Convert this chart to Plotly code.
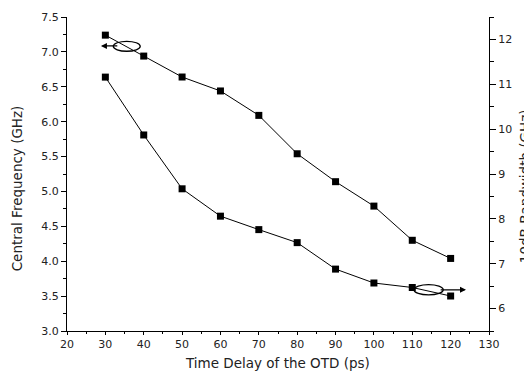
import plotly.graph_objects as go

time_delay = [30, 40, 50, 60, 70, 80, 90, 100, 110, 120]
central_freq = [7.24, 6.94, 6.64, 6.44, 6.09, 5.54, 5.14, 4.79, 4.30, 4.04]
bandwidth = [11.16, 9.87, 8.67, 8.06, 7.76, 7.47, 6.88, 6.57, 6.47, 6.28]

x_title = "Time Delay of the OTD (ps)"
y_title = "Central Frequency (GHz)"
y2_title = "-10dB Bandwidth (GHz)"

FONT = "DejaVu Sans, sans-serif"
TXT = "#222"

fig = go.Figure()
fig.add_trace(go.Scatter(x=time_delay, y=central_freq, mode="lines+markers",
                         line=dict(color="black", width=1),
                         marker=dict(symbol="square", size=7, color="black"),
                         yaxis="y", showlegend=False))
fig.add_trace(go.Scatter(x=time_delay, y=bandwidth, mode="lines+markers",
                         line=dict(color="black", width=1),
                         marker=dict(symbol="square", size=7, color="black"),
                         yaxis="y2", showlegend=False))

axis_common = dict(showgrid=False, zeroline=False, showline=True, linecolor="black",
                   linewidth=1.3, ticks="outside", tickcolor="black", tickwidth=1,
                   automargin=False,
                   tickfont=dict(family=FONT, size=11, color=TXT))

# the page body has an 8px margin, so the figure is 8px smaller than the window
fig.update_layout(
    width=524, height=364,
    margin=dict(l=59, r=43, t=9, b=41, autoexpand=False),
    paper_bgcolor="white", plot_bgcolor="white",
    xaxis=dict(range=[20, 130], dtick=10, ticklen=3, **axis_common,
               minor=dict(dtick=5, ticks="outside", ticklen=2, tickcolor="black")),
    yaxis=dict(range=[3.0, 7.5], dtick=0.5, tickformat=".1f", ticklen=5, **axis_common,
               minor=dict(dtick=0.25, ticks="outside", ticklen=3, tickcolor="black")),
    yaxis2=dict(range=[5.5, 12.5], dtick=1, overlaying="y", side="right", ticklen=6,
                **axis_common,
                minor=dict(dtick=0.5, ticks="outside", ticklen=4, tickcolor="black")),
)

title_font = dict(family=FONT, size=13.5, color=TXT)
fig.add_annotation(text=x_title, xref="paper", yref="paper", x=0.499, y=-0.102,
                   xanchor="center", yanchor="middle", showarrow=False, font=title_font)
fig.add_annotation(text=y_title, xref="paper", yref="paper", x=-0.118, y=0.455,
                   xanchor="center", yanchor="middle", textangle=-90,
                   showarrow=False, font=title_font)
fig.add_annotation(text=y2_title, xref="paper", yref="paper", x=1.085, y=0.455,
                   xanchor="center", yanchor="middle", textangle=-90,
                   showarrow=False, font=title_font)

# ellipses marking which axis each curve belongs to
fig.add_shape(type="circle", xref="x", yref="y", x0=32.06, x1=39.09, y0=7.009, y1=7.152,
              line=dict(color="black", width=1.3))
fig.add_shape(type="circle", xref="x", yref="y", x0=110.44, x1=118.07, y0=3.517, y1=3.666,
              line=dict(color="black", width=1.3))
fig.add_annotation(x=28.85, y=7.085, ax=33.5, ay=7.085, xref="x", yref="y",
                   axref="x", ayref="y", text="", showarrow=True,
                   arrowhead=2, arrowsize=1, arrowwidth=1.2, arrowcolor="black")
fig.add_annotation(x=124.0, y=3.59, ax=117.0, ay=3.59, xref="x", yref="y",
                   axref="x", ayref="y", text="", showarrow=True,
                   arrowhead=2, arrowsize=1, arrowwidth=1.2, arrowcolor="black")

fig.write_html("out.html")
